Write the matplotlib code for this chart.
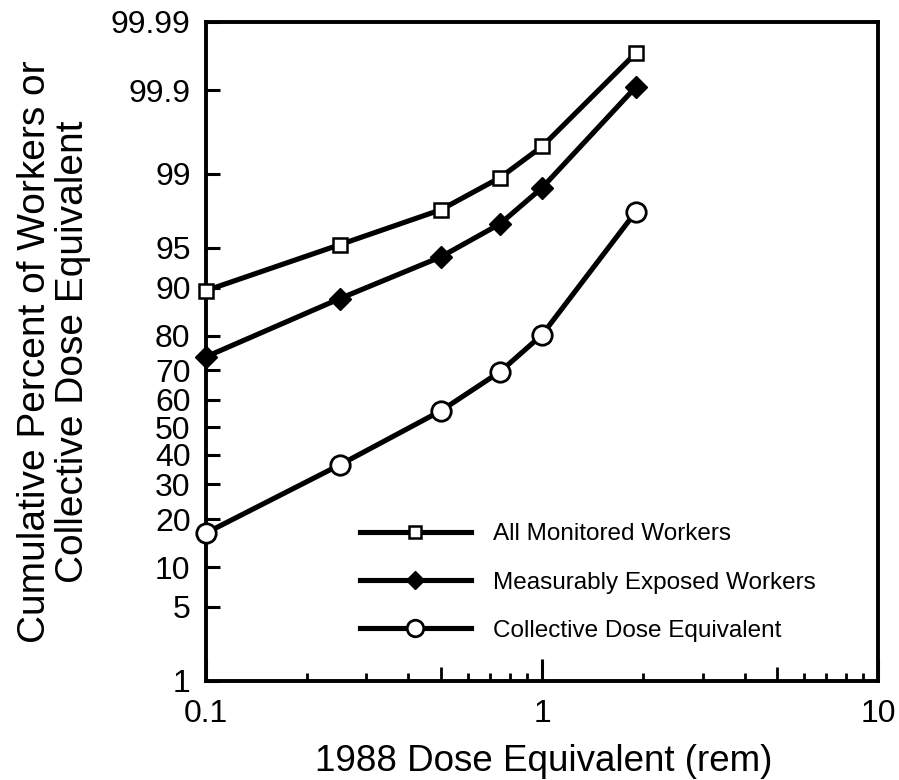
import matplotlib
matplotlib.use("Agg")
import matplotlib.pyplot as plt
import numpy as np
from matplotlib.ticker import FixedLocator, NullLocator, NullFormatter
from statistics import NormalDist

plt.rcParams['font.family'] = ['Liberation Sans', 'DejaVu Sans']

# dose bins (rem) and cumulative percentages
dose = [0.1, 0.25, 0.5, 0.75, 1.0, 1.9]
all_monitored = [89.5, 95.3, 97.7, 98.9, 99.5, 99.97]
measurably_exposed = [74.1, 88.1, 94.1, 96.9, 98.6, 99.91]
collective_dose = [16.6, 36.5, 56.0, 69.5, 80.2, 97.6]

y_ticks = [1, 5, 10, 20, 30, 40, 50, 60, 70, 80, 90, 95, 99, 99.9, 99.99]
y_tick_labels = ['1', '5', '10', '20', '30', '40', '50', '60', '70', '80',
                 '90', '95', '99', '99.9', '99.99']
x_ticks = [0.1, 1, 10]
x_tick_labels = ['0.1', '1', '10']

nd = NormalDist()


def prob_fwd(p):
    p = np.clip(np.asarray(p, dtype=float), 1e-7, 100 - 1e-7)
    return np.vectorize(lambda v: nd.inv_cdf(v / 100.0), otypes=[float])(p)


def prob_inv(z):
    z = np.asarray(z, dtype=float)
    return np.vectorize(lambda v: nd.cdf(v) * 100.0, otypes=[float])(z)


fig = plt.figure(figsize=(8.99, 7.8), dpi=100)
ax = fig.add_axes([0.229, 0.127, 0.748, 0.845])

ax.set_xscale('log')
ax.set_yscale('function', functions=(prob_fwd, prob_inv))
ax.set_xlim(0.1, 10)
ax.set_ylim(1, 99.99)

lw = 3.7
ax.plot(dose, all_monitored, '-', color='black', lw=lw, marker='s',
        markersize=10, markerfacecolor='white', markeredgecolor='black',
        markeredgewidth=1.8, clip_on=False, zorder=3,
        label='All Monitored Workers')
ax.plot(dose, measurably_exposed, '-', color='black', lw=lw, marker='D',
        markersize=11, markerfacecolor='black', markeredgecolor='black',
        clip_on=False, zorder=3, label='Measurably Exposed Workers')
ax.plot(dose, collective_dose, '-', color='black', lw=lw, marker='o',
        markersize=14, markerfacecolor='white', markeredgecolor='black',
        markeredgewidth=2, clip_on=False, zorder=3,
        label='Collective Dose Equivalent')

# y axis ticks
ax.yaxis.set_major_locator(FixedLocator(y_ticks))
ax.set_yticklabels(y_tick_labels)
ax.yaxis.set_minor_locator(NullLocator())
ax.tick_params(axis='y', which='major', direction='in', length=10, width=2.2,
               labelsize=23, pad=11, left=True, right=False)

# x axis ticks
ax.xaxis.set_major_locator(FixedLocator(x_ticks))
ax.set_xticklabels(x_tick_labels)
minor_x = [m * d for d in (0.1, 1) for m in range(2, 10)]
ax.xaxis.set_minor_locator(FixedLocator(minor_x))
ax.xaxis.set_minor_formatter(NullFormatter())
ax.tick_params(axis='x', which='major', direction='in', length=16, width=2.2,
               labelsize=23, pad=13, top=False)
ax.tick_params(axis='x', which='minor', direction='in', length=6, width=2,
               top=False)
for t, loc in zip(ax.xaxis.get_minor_ticks(), minor_x):
    if abs(loc - 0.5) < 1e-9 or abs(loc - 5) < 1e-9:
        t.tick1line.set_markersize(10)

for s in ax.spines.values():
    s.set_linewidth(2.8)

# x label sits very low in the reference, close to the bottom edge
fig.text(0.605, 0.012, '1988 Dose Equivalent (rem)', fontsize=26.5,
         ha='center', va='baseline')
ax.set_ylabel('Cumulative Percent of Workers or\nCollective Dose Equivalent',
              fontsize=28, labelpad=14, linespacing=1.1)

leg = ax.legend(loc='center left', bbox_to_anchor=(0.196, 0.149),
                frameon=False, fontsize=17.5, handlelength=4.6,
                labelspacing=1.08, handletextpad=0.9, markerscale=0.85)

fig.savefig('out.png', dpi=100)
